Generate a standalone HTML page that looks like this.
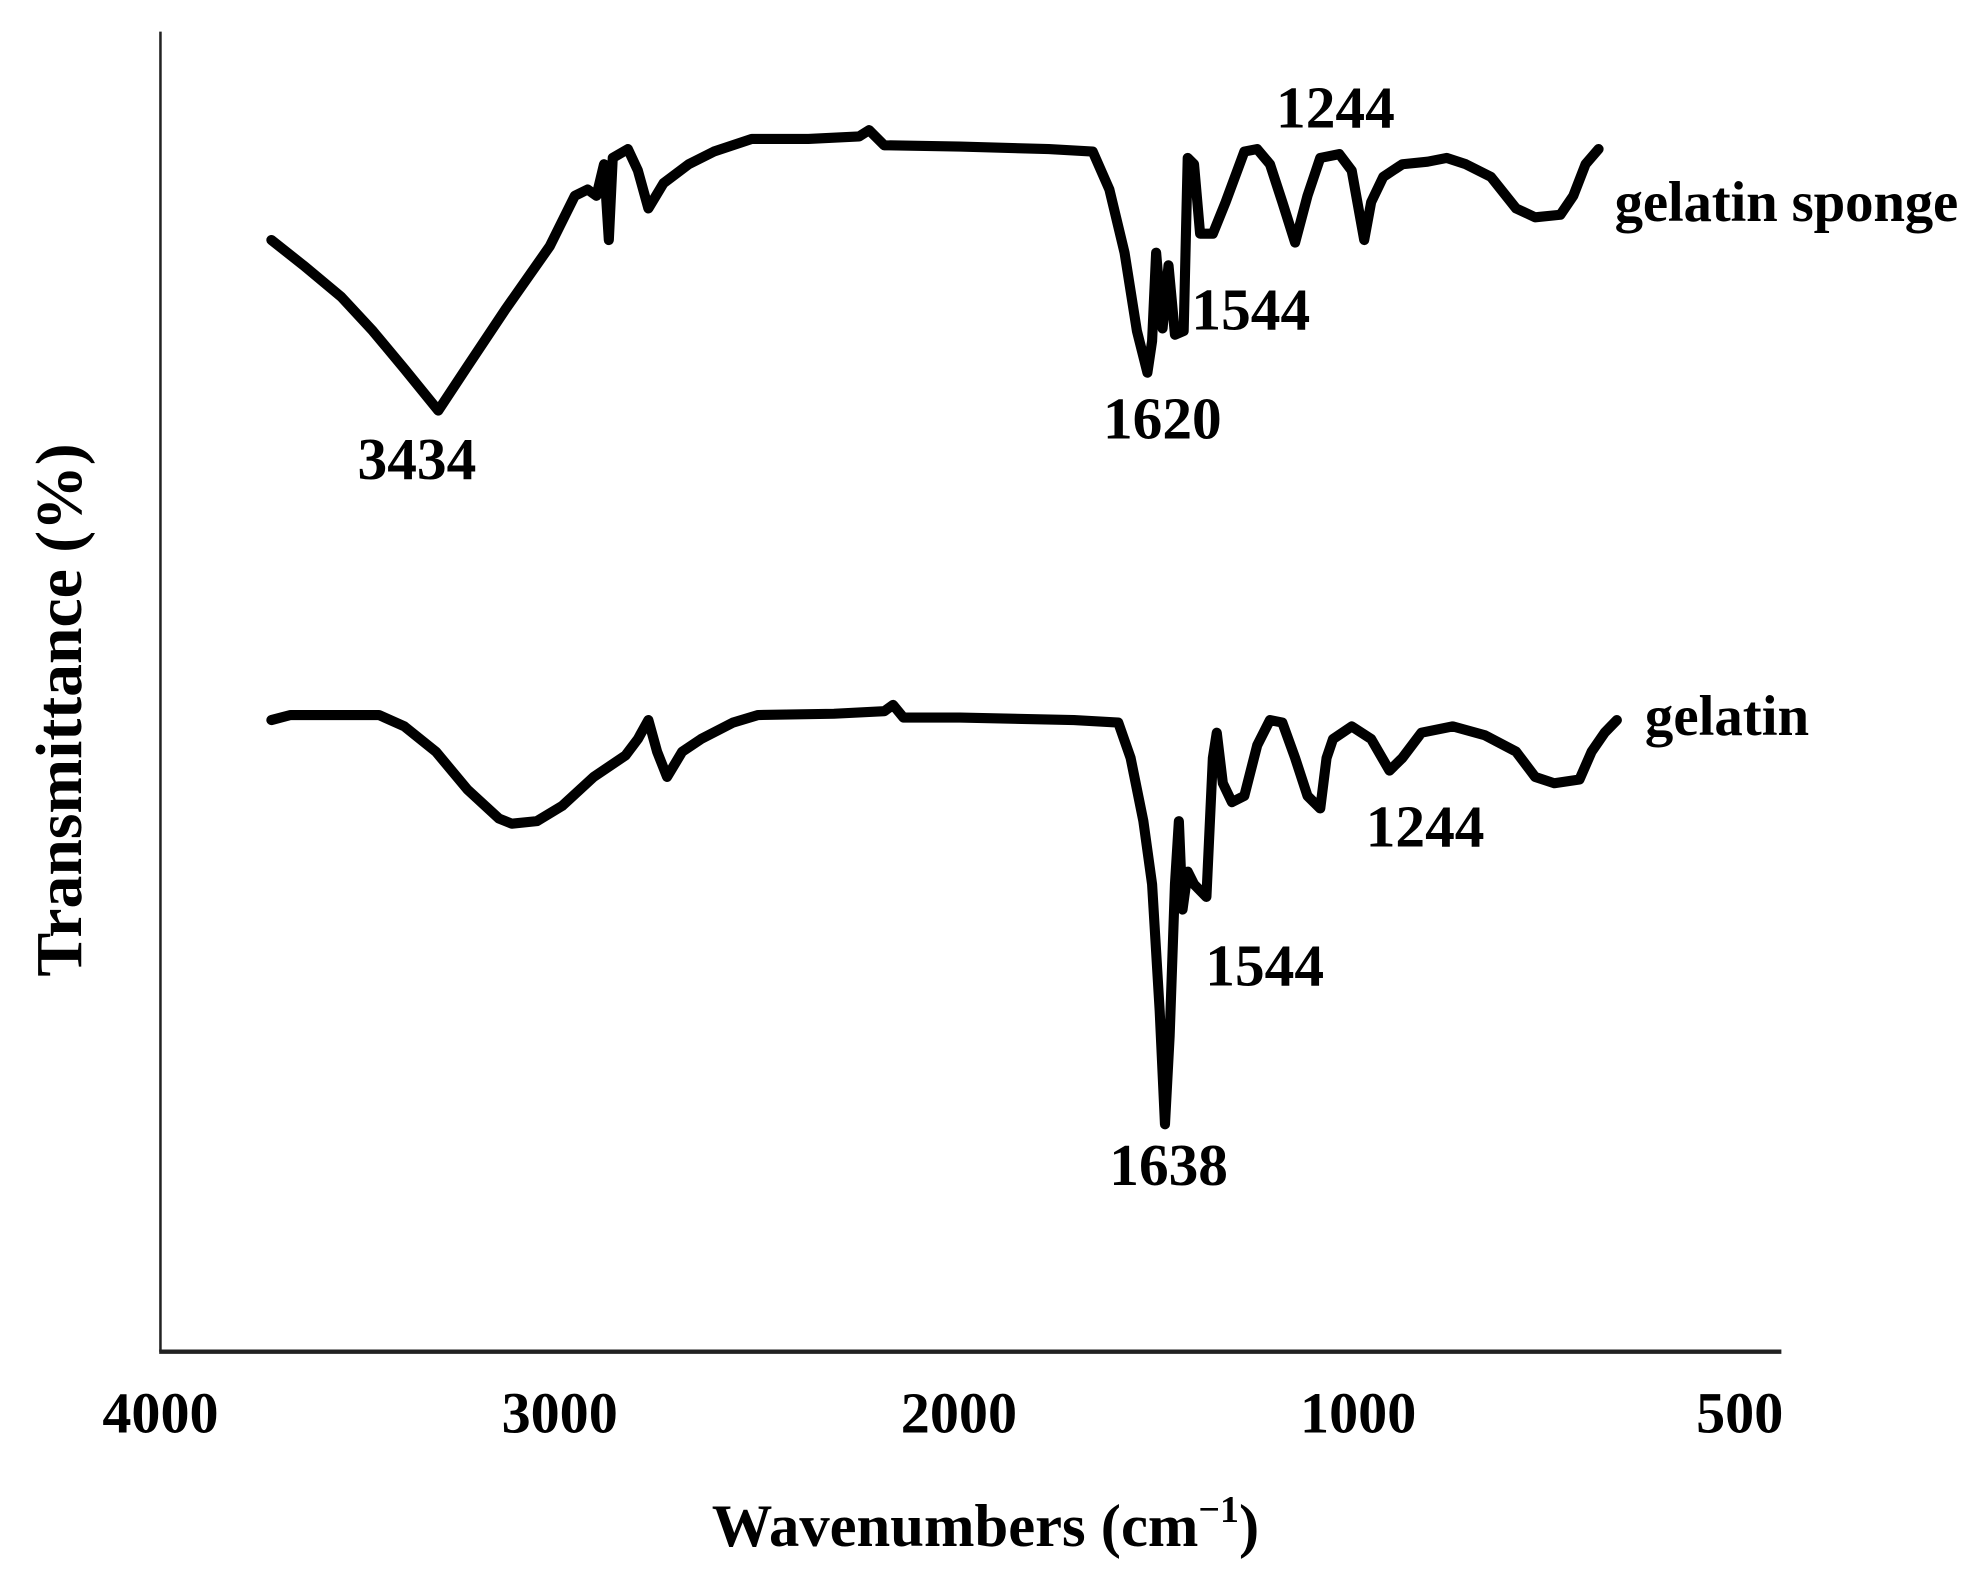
<!DOCTYPE html>
<html><head><meta charset="utf-8"><style>
html,body{margin:0;padding:0;background:#fff;}
svg{display:block;}
text{font-family:"Liberation Serif",serif;font-weight:bold;fill:#000;}
</style></head><body>
<svg id="chart" width="1981" height="1593" viewBox="0 0 1568 1261" preserveAspectRatio="none" xmlns="http://www.w3.org/2000/svg">
<line x1="127" y1="25" x2="127" y2="1070" stroke="#222" stroke-width="2"/>
<line x1="126" y1="1070" x2="1410" y2="1070" stroke="#222" stroke-width="3.5"/>
<g id="ticks"></g>
<text x="780" y="1224" font-size="48" text-anchor="middle">Wavenumbers (cm<tspan font-size="30" dy="-19">−1</tspan><tspan dy="19">)</tspan></text>
<text transform="translate(64,562) rotate(-90)" font-size="52" text-anchor="middle">Transmittance (%)</text>
<g id="series"></g>
<text x="330" y="379" font-size="47" text-anchor="middle">3434</text>
<text x="920" y="347" font-size="47" text-anchor="middle">1620</text>
<text x="990" y="261" font-size="47" text-anchor="middle">1544</text>
<text x="1057" y="101" font-size="47" text-anchor="middle">1244</text>
<text x="1278" y="175" font-size="45" textLength="272">gelatin sponge</text>
<text x="1302" y="582" font-size="45">gelatin</text>
<text x="1128" y="670" font-size="47" text-anchor="middle">1244</text>
<text x="1001" y="780" font-size="47" text-anchor="middle">1544</text>
<text x="925" y="938" font-size="47" text-anchor="middle">1638</text>
</svg>
<script>
const tickValues = [4000, 3000, 2000, 1000, 500];
const tickLabels = ["4000", "3000", "2000", "1000", "500"];
const spongeWn = [3722,3642,3547,3468,3389,3304,3231,3136,3025,2962,2930,2908,2889,2877,2867,2829,2804,2778,2740,2677,2614,2519,2377,2250,2225,2187,1997,1775,1665,1623,1585,1554,1528,1516,1506,1490,1475,1459,1437,1427,1411,1396,1364,1332,1285,1253,1221,1190,1158,1127,1095,1047,1016,992,983,967,942,909,884,859,826,793,768,735,718,702,685];
const spongeT = [88,86,83.5,80.8,77.8,74.5,78,82.5,87.5,91.5,92,91.5,94,88,94.5,95.2,93.5,90.5,92.5,94,95,96,96,96.2,96.7,95.5,95.4,95.2,95,92,87,80.8,77.5,80,87,81,86,80.5,80.8,94.5,94,88.5,88.5,91,95,95.2,94,91,87.8,91.5,94.5,94.8,93.5,88,91,93,94,94.2,94.5,94,93,90.5,89.8,90,91.5,94,95.2];
const gelatinWn = [3722,3674,3453,3389,3310,3231,3152,3120,3057,2994,2915,2835,2804,2778,2756,2731,2693,2646,2566,2503,2313,2187,2165,2139,1997,1712,1601,1570,1538,1516,1497,1484,1472,1459,1449,1440,1427,1411,1380,1364,1354,1339,1316,1285,1253,1221,1190,1158,1127,1095,1079,1063,1016,983,959,942,917,876,834,793,768,743,710,694,677,661];
const gelatinT = [50,50.4,50.4,49.5,47.5,44.5,42.2,41.8,42,43.2,45.5,47.2,48.5,50,47.5,45.5,47.5,48.5,49.8,50.4,50.5,50.7,51.2,50.2,50.2,50,49.8,47,42,37,27,18,25,37,42,35,38,37,36,47,49,45,43.5,44,48,50,49.8,47,44,43,47,48.5,49.5,48.5,46,47,49,49.5,48.8,47.5,45.5,45,45.3,47.5,49,50];

function xScale(w){
  if (w >= 1000) return 127 + (4000 - w) * 0.316;
  return 1075 + (1000 - w) * 0.604;
}
function yScale(t){ return 1070 - t * 10; }

const NS = "http://www.w3.org/2000/svg";
const tg = document.getElementById('ticks');
tickValues.forEach((v,i)=>{
  const t = document.createElementNS(NS,'text');
  t.setAttribute('x', xScale(v));
  t.setAttribute('y', 1134);
  t.setAttribute('font-size', 46);
  t.setAttribute('text-anchor', 'middle');
  t.textContent = tickLabels[i];
  
  
  tg.appendChild(t);
});
function drawSeries(wn, tv, name){
  const p = document.createElementNS(NS,'path');
  let d = '';
  for (let i=0;i<wn.length;i++){
    d += (i ? 'L' : 'M') + xScale(wn[i]).toFixed(1) + ',' + yScale(tv[i]).toFixed(1);
  }
  p.setAttribute('d', d);
  p.setAttribute('fill', 'none');
  p.setAttribute('stroke', '#000');
  p.setAttribute('stroke-width', '8');
  p.setAttribute('stroke-linejoin', 'round');
  p.setAttribute('stroke-linecap', 'round');
  
  
  document.getElementById('series').appendChild(p);
}
drawSeries(spongeWn, spongeT, 'gelatin-sponge-line');
drawSeries(gelatinWn, gelatinT, 'gelatin-line');
</script>
</body></html>
